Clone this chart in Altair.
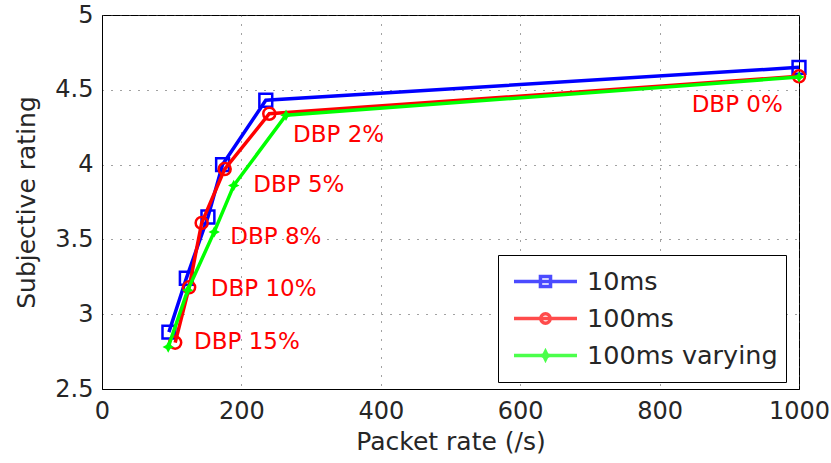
import altair as alt
import pandas as pd

series_names = ["10ms", "100ms", "100ms varying"]
series_colors = ["#0000ff", "#ff0000", "#00ff00"]

x_10ms = [96, 121, 152, 173, 235, 1000]
y_10ms = [2.88, 3.24, 3.65, 4.00, 4.43, 4.65]
x_100ms = [105, 125, 143, 176, 240, 1000]
y_100ms = [2.81, 3.18, 3.61, 3.97, 4.34, 4.59]
x_100var = [95, 123, 161, 189, 264, 1000]
y_100var = [2.78, 3.16, 3.55, 3.86, 4.33, 4.585]

ann_labels = ["DBP 0%", "DBP 2%", "DBP 5%", "DBP 8%", "DBP 10%", "DBP 15%"]
ann_x = [846, 274, 217, 184, 156, 132]
ann_y = [4.40, 4.20, 3.864, 3.518, 3.166, 2.816]

x_ticks = [0, 200, 400, 600, 800, 1000]
y_ticks = [2.5, 3, 3.5, 4, 4.5, 5]

rows = []
for name, xs, ys in zip(series_names, [x_10ms, x_100ms, x_100var], [y_10ms, y_100ms, y_100var]):
    for xv, yv in zip(xs, ys):
        rows.append({"x": xv, "y": yv, "series": name})
df = pd.DataFrame(rows)
ann = pd.DataFrame({"x": ann_x, "y": ann_y, "label": ann_labels})

FONT = "DejaVu Sans"
xscale = alt.Scale(domain=[0, 1000], nice=False)
yscale = alt.Scale(domain=[2.5, 5], nice=False)
xenc = alt.X("x:Q", scale=xscale, axis=alt.Axis(values=x_ticks, title="Packet rate (/s)", format="d"))
yenc = alt.Y("y:Q", scale=yscale, axis=alt.Axis(values=y_ticks, title="Subjective rating", format="~g"))

star = "M0,-1L0.35,-0.35L1,0L0.35,0.35L0,1L-0.35,0.35L-1,0L-0.35,-0.35Z"
point_styles = [
    dict(shape="square", filled=False, size=165, strokeWidth=2.5),
    dict(shape="circle", filled=False, size=145, strokeWidth=2.5),
    dict(shape=star, filled=True, size=130, strokeWidth=0),
]

layers = []
for name, col, ps in zip(series_names, series_colors, point_styles):
    sub = alt.Chart(df).transform_filter(alt.datum.series == name)
    layers.append(sub.mark_line(color=col, strokeWidth=3.5).encode(x=xenc, y=yenc))
    layers.append(sub.mark_point(color=col, opacity=1, **ps).encode(x=xenc, y=yenc))

leg_shapes = [
    "M-0.81,0H1.19M0.03,-0.16H0.35V0.16H0.03Z",
    "M-0.81,0H1.19M0.34,0A0.15,0.15 0 1,1 0.04,0A0.15,0.15 0 1,1 0.34,0Z",
    "M-0.81,0H1.19M0.19,-0.12L0.23,-0.04L0.31,0L0.23,0.04L0.19,0.12L0.15,0.04L0.07,0L0.15,-0.04Z",
]
legend = alt.Legend(
    title=None, orient="none", legendX=396, legendY=240,
    strokeColor="black", fillColor="white", padding=8,
    symbolSize=3969, symbolStrokeWidth=3.5, clipHeight=37, rowPadding=0,
    labelFont=FONT, labelFontSize=25.5, labelColor="#262626", labelOffset=14,
    labelLimit=400,
)
legend_layer = alt.Chart(df).transform_filter("datum.x < 0").mark_point(filled=False, strokeWidth=3.5).encode(
    x=xenc, y=yenc,
    color=alt.Color("series:N", scale=alt.Scale(domain=series_names, range=series_colors), legend=legend),
    shape=alt.Shape("series:N", scale=alt.Scale(domain=series_names, range=leg_shapes), legend=legend),
)

text = alt.Chart(ann).mark_text(align="left", baseline="middle", color="#ff0000", font=FONT, fontSize=23).encode(
    x=alt.X("x:Q", scale=xscale), y=alt.Y("y:Q", scale=yscale), text="label:N"
)

chart = alt.layer(*layers, text, legend_layer).properties(
    width=697, height=374,
    padding={"left": 102, "top": 15, "right": 32, "bottom": 74},
    autosize=alt.AutoSizeParams(type="none"),
).configure_view(
    stroke="black", strokeWidth=1
).configure_axis(
    domainColor="black", domainWidth=1, ticks=False, labelFlush=False,
    grid=True, gridColor="#444444", gridDash=[1, 8], gridWidth=1,
    labelFont=FONT, labelFontSize=24, labelColor="#262626",
    titleFont=FONT, titleFontSize=25, titleFontWeight="normal", titleColor="#262626",
).configure_axisX(labelPadding=10, titlePadding=6
).configure_axisY(labelPadding=9, titlePadding=15)

chart.save("out.html", embed_options={"renderer": "svg", "actions": False})
